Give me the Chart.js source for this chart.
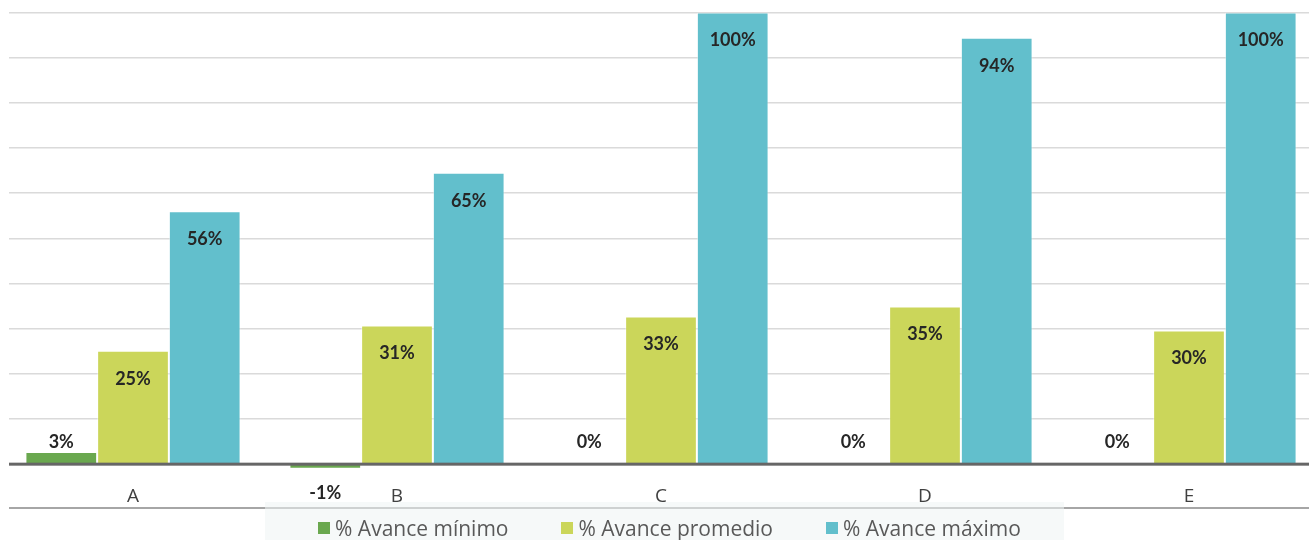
<!DOCTYPE html>
<html>
<head>
<meta charset="utf-8">
<script src="https://cdn.jsdelivr.net/npm/chart.js@4.4.1/dist/chart.umd.min.js"></script>
<style>
    body { margin: 0; background: #fff; overflow: hidden; width: 1309px; height: 540px; position: relative; }
    #wrap { position: absolute; left: 0; top: 0; width: 1330px; height: 540px; }
    #rule { position: absolute; left: 9px; top: 507px; width: 1300px; height: 2px; background: #a6a6a6; }
    #legend {
        position: absolute; left: 265px; top: 502px; width: 799px; height: 38px;
        background: rgba(238, 244, 244, 0.55);
        display: flex; justify-content: center; align-items: center; gap: 53px;
        font-family: "Open Sans", sans-serif; font-size: 21px; color: #595959;
        padding-top: 14px; padding-left: 10px; box-sizing: border-box;
    }
    .item { display: flex; align-items: center; white-space: nowrap; }
    .swatch { width: 12px; height: 12px; margin-right: 5px; }
</style>
</head>
<body>
<div id="wrap"><canvas id="chart" width="1330" height="540"></canvas></div>
<div id="rule"></div>
<div id="legend"></div>
<script>
// chart data
const categories = ['A', 'B', 'C', 'D', 'E'];
const seriesNames = ['% Avance mínimo', '% Avance promedio', '% Avance máximo'];
const avanceMinimo = [2.7, -1, 0, 0, 0];
const avancePromedio = [25.1, 30.7, 32.7, 34.9, 29.6];
const avanceMaximo = [56, 64.5, 100, 94.4, 100];
const yTicks = [0, 10, 20, 30, 40, 50, 60, 70, 80, 90, 100];
const colors = ['#6aa84f', '#cbd65a', '#62bfcc'];

// labels + baseline drawn after the bars
const overlay = {
    id: 'overlay',
    beforeDatasetsDraw(chart) {
        const ctx = chart.ctx;
        ctx.save();
        ctx.fillStyle = '#fff';
        ctx.fillRect(0, 0, 9, chart.chartArea.bottom + 2);
        ctx.restore();
    },
    afterDatasetsDraw(chart) {
        const ctx = chart.ctx;
        const y = chart.scales.y;
        const base = y.getPixelForValue(0);
        ctx.save();
        ctx.fillStyle = '#666';
        ctx.fillRect(9, base - 1.5, chart.width, 3);

        ctx.font = 'bold 18px Lato, sans-serif';
        ctx.fillStyle = '#262626';
        ctx.textAlign = 'center';
        ctx.textBaseline = 'middle';
        chart.data.datasets.forEach((ds, di) => {
            chart.getDatasetMeta(di).data.forEach((bar, i) => {
                const v = ds.data[i];
                let ty;
                if (di === 0) {
                    ty = v < 0 ? y.getPixelForValue(v) + 25 : base - 22;
                } else {
                    ty = y.getPixelForValue(v) + 28;
                }
                ctx.fillText(Math.round(v) + '%', bar.x, ty);
            });
        });
        ctx.restore();
    }
};

const chart = new Chart(document.getElementById('chart'), {
    type: 'bar',
    data: {
        labels: categories,
        datasets: [
            { label: seriesNames[0], data: avanceMinimo, backgroundColor: colors[0] },
            { label: seriesNames[1], data: avancePromedio, backgroundColor: colors[1] },
            { label: seriesNames[2], data: avanceMaximo, backgroundColor: colors[2] }
        ]
    },
    options: {
        responsive: false,
        animation: false,
        devicePixelRatio: 1,
        layout: { padding: { left: 1, right: 9, top: 12.5, bottom: 20 } },
        datasets: {
            bar: {
                categoryPercentage: 0.815,
                barPercentage: 1,
                borderWidth: 1,
                borderColor: 'rgba(255,255,255,0.45)'
            }
        },
        plugins: {
            legend: { display: false },
            tooltip: { enabled: false }
        },
        scales: {
            x: {
                grid: { display: false, drawTicks: false },
                border: { display: false },
                ticks: {
                    padding: 12,
                    color: '#404040',
                    font: { family: 'Open Sans', size: 19 }
                }
            },
            y: {
                min: -2,
                max: 100,
                border: { display: false },
                afterFit(scale) { scale.width = 0; },
                afterBuildTicks(scale) { scale.ticks = yTicks.map(v => ({ value: v })); },
                ticks: { display: false },
                grid: {
                    drawTicks: false,
                    lineWidth: 1.5,
                    color: ctx => ctx.tick && ctx.tick.value === 0 ? 'rgba(0,0,0,0)' : '#dadada'
                }
            }
        }
    },
    plugins: [overlay]
});

// html legend from the datasets
const legend = document.getElementById('legend');
chart.data.datasets.forEach(ds => {
    const item = document.createElement('div');
    item.className = 'item';
    const sw = document.createElement('span');
    sw.className = 'swatch';
    sw.style.background = ds.backgroundColor;
    item.appendChild(sw);
    item.appendChild(document.createTextNode(ds.label));
    legend.appendChild(item);
});
</script>
</body>
</html>
